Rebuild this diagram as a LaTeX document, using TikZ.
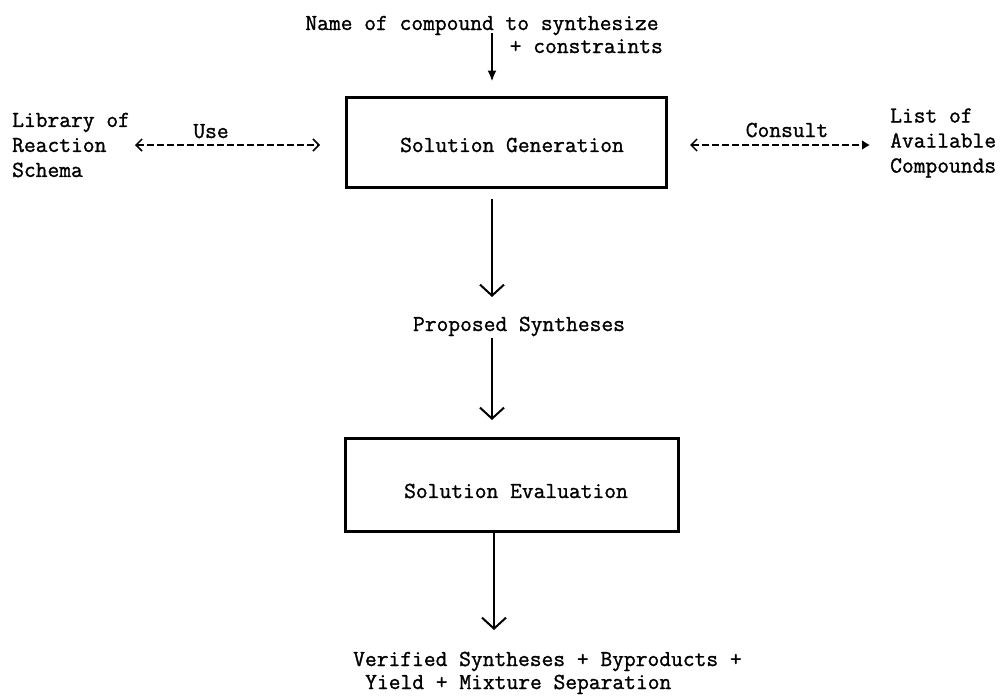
\documentclass[tikz,border=0pt]{standalone}
\usepackage{fontspec}
\usetikzlibrary{arrows.meta}
% typewriter face, slightly emboldened like a ribbon print
\newfontfamily\typewriter{lmmono12-regular}[Extension=.otf, FakeBold=1.2]
\tikzset{
  barbtip/.tip={Straight Barb[length=6pt,width=12pt,line width=1.5pt]},
  solidtip/.tip={Latex[length=8pt,width=10pt]}
}
\begin{document}
\begin{tikzpicture}[x=1pt,y=-1pt,
  txt/.style={inner sep=0pt, font=\typewriter\fontsize{22.86pt}{25pt}\selectfont},
  procbox/.style={draw, line width=3pt, inner sep=0pt},
  flow/.style={line width=2.2pt, -{Straight Barb[length=11pt,width=24pt,line width=2pt]}},
  feed/.style={line width=2pt, -{Latex[length=11pt,width=9pt]}},
  link/.style={line width=1.5pt, dash pattern=on 7pt off 3pt}
]
% page area
\fill[white] (0,0) rectangle (1000,696);
\useasboundingbox (0,0) rectangle (1000,696);

% processing stages
\node[procbox, minimum width=320pt, minimum height=90pt] (gen) at (506,142) {};
\node[txt] (gentxt) at (512,145) {Solution Generation};
\node[procbox, minimum width=333pt, minimum height=93pt] (eval) at (512,485) {};
\node[txt] (evaltxt) at (516,491) {Solution Evaluation};

% input
\node[txt, anchor=base] (in1) at (482,30) {Name of compound to synthesize};
\node[txt, anchor=base east] (in2) at (663,53) {+ constraints};
\coordinate (a0s) at (492,33);
\draw[feed, shorten >=14pt] (a0s) -- (gen.north -| a0s);

% side resources
\node[txt, anchor=west, align=left] (lib) at (12,145) {Library of\\Reaction\\Schema};
\node[txt, anchor=west, align=left] (lst) at (890,143) {List of\\Available\\Compounds};
\node[txt, anchor=base] (use) at (211,138) {Use};
\node[txt, anchor=base] (consult) at (787,137) {Consult};

\coordinate (uL) at (135,145);
\coordinate (uR) at (320,145);
\draw[link, barbtip-barbtip] (uL) -- (uR);
\coordinate (cL) at (690,145);
\coordinate (cR) at (870,145);
\draw[link, barbtip-solidtip] (cL) -- (cR);

% intermediate result
\node[txt, anchor=base] (prop) at (519,331) {Proposed Syntheses};
\coordinate (a1e) at (492,297);
\draw[flow, shorten <=10pt] (gen.south -| a1e) -- (a1e);
\coordinate (a2s) at (492,338);
\draw[flow, shorten >=17pt] (a2s) -- (eval.north -| a2s);

% output
\coordinate (a3e) at (494,630);
\draw[flow] (eval.south -| a3e) -- (a3e);
\node[txt, anchor=base west] (out1) at (353,666) {Verified Syntheses + Byproducts +};
\node[txt, anchor=base west] (out2) at (365,689) {Yield + Mixture Separation};
\end{tikzpicture}
\end{document}
